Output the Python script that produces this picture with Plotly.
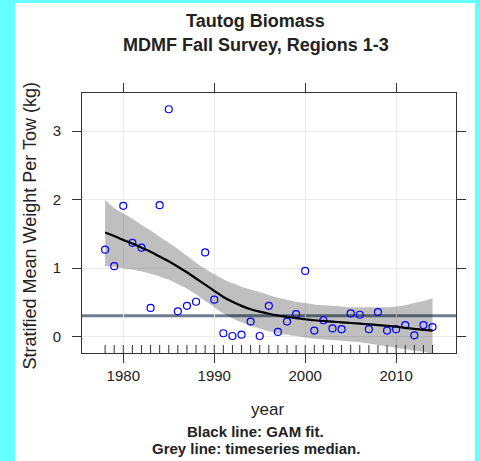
import plotly.graph_objects as go

years = list(range(1978, 2015))
biomass = [1.27, 1.03, 1.91, 1.37, 1.30, 0.42, 1.92, 3.32, 0.37, 0.45,
           0.51, 1.23, 0.54, 0.05, 0.01, 0.03, 0.22, 0.01, 0.45, 0.07,
           0.22, 0.33, 0.96, 0.09, 0.24, 0.12, 0.11, 0.34, 0.32, 0.11,
           0.36, 0.09, 0.11, 0.17, 0.02, 0.17, 0.14]
gam_fit = [1.52, 1.47, 1.41, 1.36, 1.30, 1.24, 1.17, 1.10, 1.02, 0.94,
           0.85, 0.76, 0.67, 0.58, 0.51, 0.45, 0.40, 0.365, 0.335, 0.31,
           0.29, 0.27, 0.255, 0.24, 0.23, 0.22, 0.21, 0.20, 0.19, 0.18,
           0.17, 0.16, 0.145, 0.13, 0.115, 0.10, 0.09]
gam_upper = [2.00, 1.88, 1.80, 1.72, 1.63, 1.55, 1.46, 1.37, 1.28, 1.18,
             1.08, 0.99, 0.91, 0.84, 0.78, 0.73, 0.69, 0.65, 0.61, 0.57,
             0.54, 0.51, 0.49, 0.47, 0.46, 0.45, 0.44, 0.43, 0.43, 0.43,
             0.43, 0.43, 0.44, 0.46, 0.49, 0.52, 0.56]
gam_lower = [1.03, 1.02, 1.00, 0.98, 0.95, 0.92, 0.88, 0.83, 0.77, 0.70,
             0.62, 0.52, 0.43, 0.34, 0.27, 0.21, 0.16, 0.12, 0.08, 0.05,
             0.03, 0.01, -0.01, -0.03, -0.04, -0.05, -0.06, -0.07, -0.08, -0.10,
             -0.12, -0.14, -0.16, -0.18, -0.20, -0.22, -0.25]
median_value = 0.307
x_ticks = [1980, 1990, 2000, 2010]
y_ticks = [0, 1, 2, 3]

FONT = "Liberation Sans, Arial, sans-serif"
TXT = "#222222"

fig = go.Figure()

fig.add_trace(go.Scatter(x=years, y=gam_upper, mode="lines",
                         line=dict(width=0, shape="spline"), hoverinfo="skip",
                         showlegend=False))
fig.add_trace(go.Scatter(x=years, y=gam_lower, mode="lines",
                         line=dict(width=0, shape="spline"), fill="tonexty",
                         fillcolor="rgba(0,0,0,0.25)", hoverinfo="skip",
                         showlegend=False))
fig.add_trace(go.Scatter(x=years, y=biomass, mode="markers",
                         marker=dict(symbol="circle-open", size=7,
                                     color="#0000FF", line=dict(width=1.2)),
                         showlegend=False))
fig.add_trace(go.Scatter(x=years, y=gam_fit, mode="lines",
                         line=dict(color="black", width=2.2, shape="spline"),
                         showlegend=False))

shapes = []
# white panel
shapes.append(dict(type="rect", xref="paper", yref="paper",
                   x0=-0.1791, x1=1.0508, y0=-0.4154, y1=1.3462,
                   fillcolor="white", line=dict(width=0), layer="below"))
# median line
shapes.append(dict(type="line", xref="x domain", yref="y",
                   x0=0, x1=1, y0=median_value, y1=median_value,
                   line=dict(color="#6E7E8E", width=3), layer="below"))
# rug
for yr in years:
    shapes.append(dict(type="line", xref="x", yref="y domain",
                       x0=yr, x1=yr, y0=0, y1=8 / 260,
                       line=dict(color="#333333", width=1), layer="above"))

annotations = [
    dict(text="<b>Tautog Biomass</b>", xref="paper", yref="paper",
         x=0.4652, y=1.2769, xanchor="center", yanchor="middle",
         showarrow=False, font=dict(size=18, color=TXT, family=FONT)),
    dict(text="<b>MDMF Fall Survey, Regions 1-3</b>", xref="paper", yref="paper",
         x=0.4652, y=1.1846, xanchor="center", yanchor="middle",
         showarrow=False, font=dict(size=18, color=TXT, family=FONT)),
    dict(text="year", xref="paper", yref="paper",
         x=0.497, y=-0.2192, xanchor="center", yanchor="middle",
         showarrow=False, font=dict(size=17, color=TXT, family=FONT)),
    dict(text="<b>Black line: GAM fit.</b>", xref="paper", yref="paper",
         x=0.4652, y=-0.3027, xanchor="center", yanchor="middle",
         showarrow=False, font=dict(size=15, color=TXT, family=FONT)),
    dict(text="<b>Grey line: timeseries median.</b>", xref="paper", yref="paper",
         x=0.4652, y=-0.3692, xanchor="center", yanchor="middle",
         showarrow=False, font=dict(size=15, color=TXT, family=FONT)),
    dict(text="Stratified Mean Weight Per Tow (kg)", xref="paper", yref="paper",
         x=-0.1364, y=0.4904, xanchor="center", yanchor="middle", textangle=-90,
         showarrow=False, font=dict(size=18, color=TXT, family=FONT)),
]

fig.update_layout(
    width=480, height=461,
    margin=dict(l=82, r=24, t=93, b=108),
    paper_bgcolor="#66FFFF",
    plot_bgcolor="white",
    shapes=shapes,
    annotations=annotations,
    font=dict(family=FONT, color=TXT),
    showlegend=False,
)
fig.update_xaxes(range=[1975.46, 2016.58], tickvals=x_ticks,
                 ticks="outside", ticklen=9, tickcolor="#333333", tickwidth=1,
                 showline=True, linecolor="#333333", linewidth=1, mirror="ticks",
                 showgrid=True, gridcolor="#EBEBEB", gridwidth=1, zeroline=False,
                 tickfont=dict(size=15, color=TXT, family=FONT))
fig.update_yaxes(range=[-0.238, 3.557], tickvals=y_ticks,
                 ticks="outside", ticklen=9, tickcolor="#333333", tickwidth=1,
                 showline=True, linecolor="#333333", linewidth=1, mirror="ticks",
                 showgrid=True, gridcolor="#EBEBEB", gridwidth=1, zeroline=False,
                 ticklabelstandoff=8,
                 tickfont=dict(size=15, color=TXT, family=FONT))

fig.write_html("out.html", config={"displayModeBar": False},
               post_script="document.body.style.margin='0';document.body.style.overflow='hidden';")
